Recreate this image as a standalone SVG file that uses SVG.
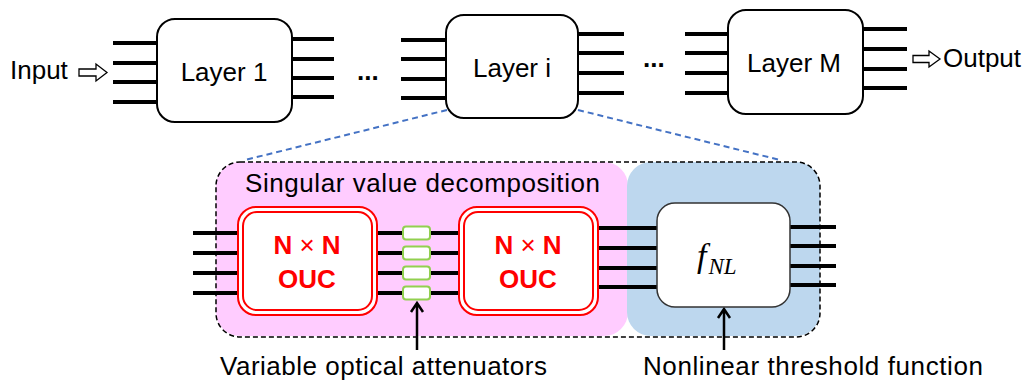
<svg xmlns="http://www.w3.org/2000/svg" width="1035" height="383" viewBox="0 0 1035 383">
<defs>
<style>
.t{font-family:"Liberation Sans",Arial,sans-serif;font-size:26px;fill:#000}
.box{fill:#fff;stroke:#000;stroke-width:2}
.w{stroke:#000;stroke-width:4;fill:none}
.ouco{fill:#fff;stroke:#f00;stroke-width:2}
.ouct{font-family:"Liberation Sans",Arial,sans-serif;font-size:26px;font-weight:bold;fill:#f00;text-anchor:middle}
.att{fill:#fff;stroke:#92D050;stroke-width:2}
.blue{stroke:#4472C4;stroke-width:2;stroke-dasharray:6 4;fill:none}
.harrow{fill:#fff;stroke:#000;stroke-width:1.3}
.up{stroke:#000;stroke-width:2.5;fill:none}
</style>
</defs>

<!-- background regions -->
<g id="regions">
<rect x="216" y="162" width="412" height="174" rx="24" fill="#FFCCFF"/>
<rect x="627" y="162" width="193" height="174" rx="24" fill="#BDD7EE"/>
<rect x="216" y="162" width="604" height="175" rx="24" fill="none" stroke="#000" stroke-width="1.5" stroke-dasharray="5 3"/>
<text class="t" x="245" y="192" textLength="355" lengthAdjust="spacing">Singular value decomposition</text>
</g>

<g id="connectors">
<!-- Layer 1 -->
<path class="w" d="M113,43H158M113,63H158M113,82H158M113,102H158"/>
<path class="w" d="M291,39H334M291,59H334M291,78H334M291,97H334"/>
<!-- Layer i -->
<path class="w" d="M401,40H447M401,59H447M401,79H447M401,98H447"/>
<path class="w" d="M577,34H624M577,53H624M577,73H624M577,93H624"/>
<!-- Layer M -->
<path class="w" d="M685,34H729M685,53H729M685,73H729M685,93H729"/>
<path class="w" d="M862,29H907M862,49H907M862,69H907M862,88H907"/>
<!-- zoom lines -->
<path class="blue" d="M447,110L245,160M578,110L780,160"/>
<!-- inner waveguides -->
<path class="w" d="M193,233H239M193,253H239M193,273H239M193,293H239"/>
<path class="w" d="M376,233H460M376,253H460M376,273H460M376,293H460"/>
<path class="w" d="M597,228H658M597,248H658M597,268H658M597,287H658"/>
<path class="w" d="M789,227H836M789,246H836M789,266H836M789,285H836"/>
<!-- pointer arrows -->
<path class="up" d="M417,350V303M411,312L417,303L423,312"/>
<path class="up" d="M724,350V309M718,318L724,309L730,318"/>
<!-- in/out arrows -->
<path class="harrow" d="M79,69H96V64L107,72.5L96,81V76H79Z"/>
<path class="harrow" d="M913,55.5H929V51L940,59L929,67V62.5H913Z"/>
</g>

<g id="input"><text class="t" x="10" y="79">Input</text></g>
<g id="output"><text class="t" x="943" y="67">Output</text></g>

<g id="layer1">
<rect class="box" x="157" y="19" width="135" height="103" rx="18"/>
<text class="t" x="224" y="81" text-anchor="middle">Layer 1</text>
</g>
<g id="dots1"><text class="t" x="357" y="80" font-weight="bold">...</text></g>
<g id="layeri">
<rect class="box" x="446" y="15" width="132" height="103" rx="18"/>
<text class="t" x="512" y="77" text-anchor="middle">Layer i</text>
</g>
<g id="dots2"><text class="t" x="643" y="67" font-weight="bold">...</text></g>
<g id="layerM">
<rect class="box" x="728" y="10" width="135" height="104" rx="18"/>
<text class="t" x="794" y="72" text-anchor="middle">Layer M</text>
</g>

<g id="ouc1">
<rect class="ouco" x="238" y="207" width="139" height="108" rx="18"/>
<rect class="ouco" x="243" y="212" width="129" height="98" rx="14"/>
<text class="ouct" x="307" y="254">N<tspan font-weight="normal"> × </tspan>N</text>
<text class="ouct" x="307" y="288">OUC</text>
</g>

<g id="attenuators">
<rect class="att" x="403" y="226.5" width="27" height="13" rx="3"/>
<rect class="att" x="403" y="246.5" width="27" height="13" rx="3"/>
<rect class="att" x="403" y="266.5" width="27" height="13" rx="3"/>
<rect class="att" x="403" y="286.5" width="27" height="13" rx="3"/>
</g>

<g id="ouc2">
<rect class="ouco" x="459" y="207" width="139" height="108" rx="18"/>
<rect class="ouco" x="464" y="212" width="129" height="98" rx="14"/>
<text class="ouct" x="528" y="254">N<tspan font-weight="normal"> × </tspan>N</text>
<text class="ouct" x="528" y="288">OUC</text>
</g>

<g id="fnl">
<rect x="657" y="203" width="133" height="104" rx="18" fill="#fff" stroke="#333" stroke-width="1.5"/>
<text x="697" y="267" font-family="'Liberation Serif','DejaVu Serif',serif" font-style="italic" font-size="34">f<tspan font-size="23" dx="2" dy="7">NL</tspan></text>
</g>

<g id="labels">
<text class="t" x="220" y="375" textLength="327" lengthAdjust="spacing">Variable optical attenuators</text>
<text class="t" x="643" y="375" textLength="340" lengthAdjust="spacing">Nonlinear threshold function</text>
</g>
</svg>
